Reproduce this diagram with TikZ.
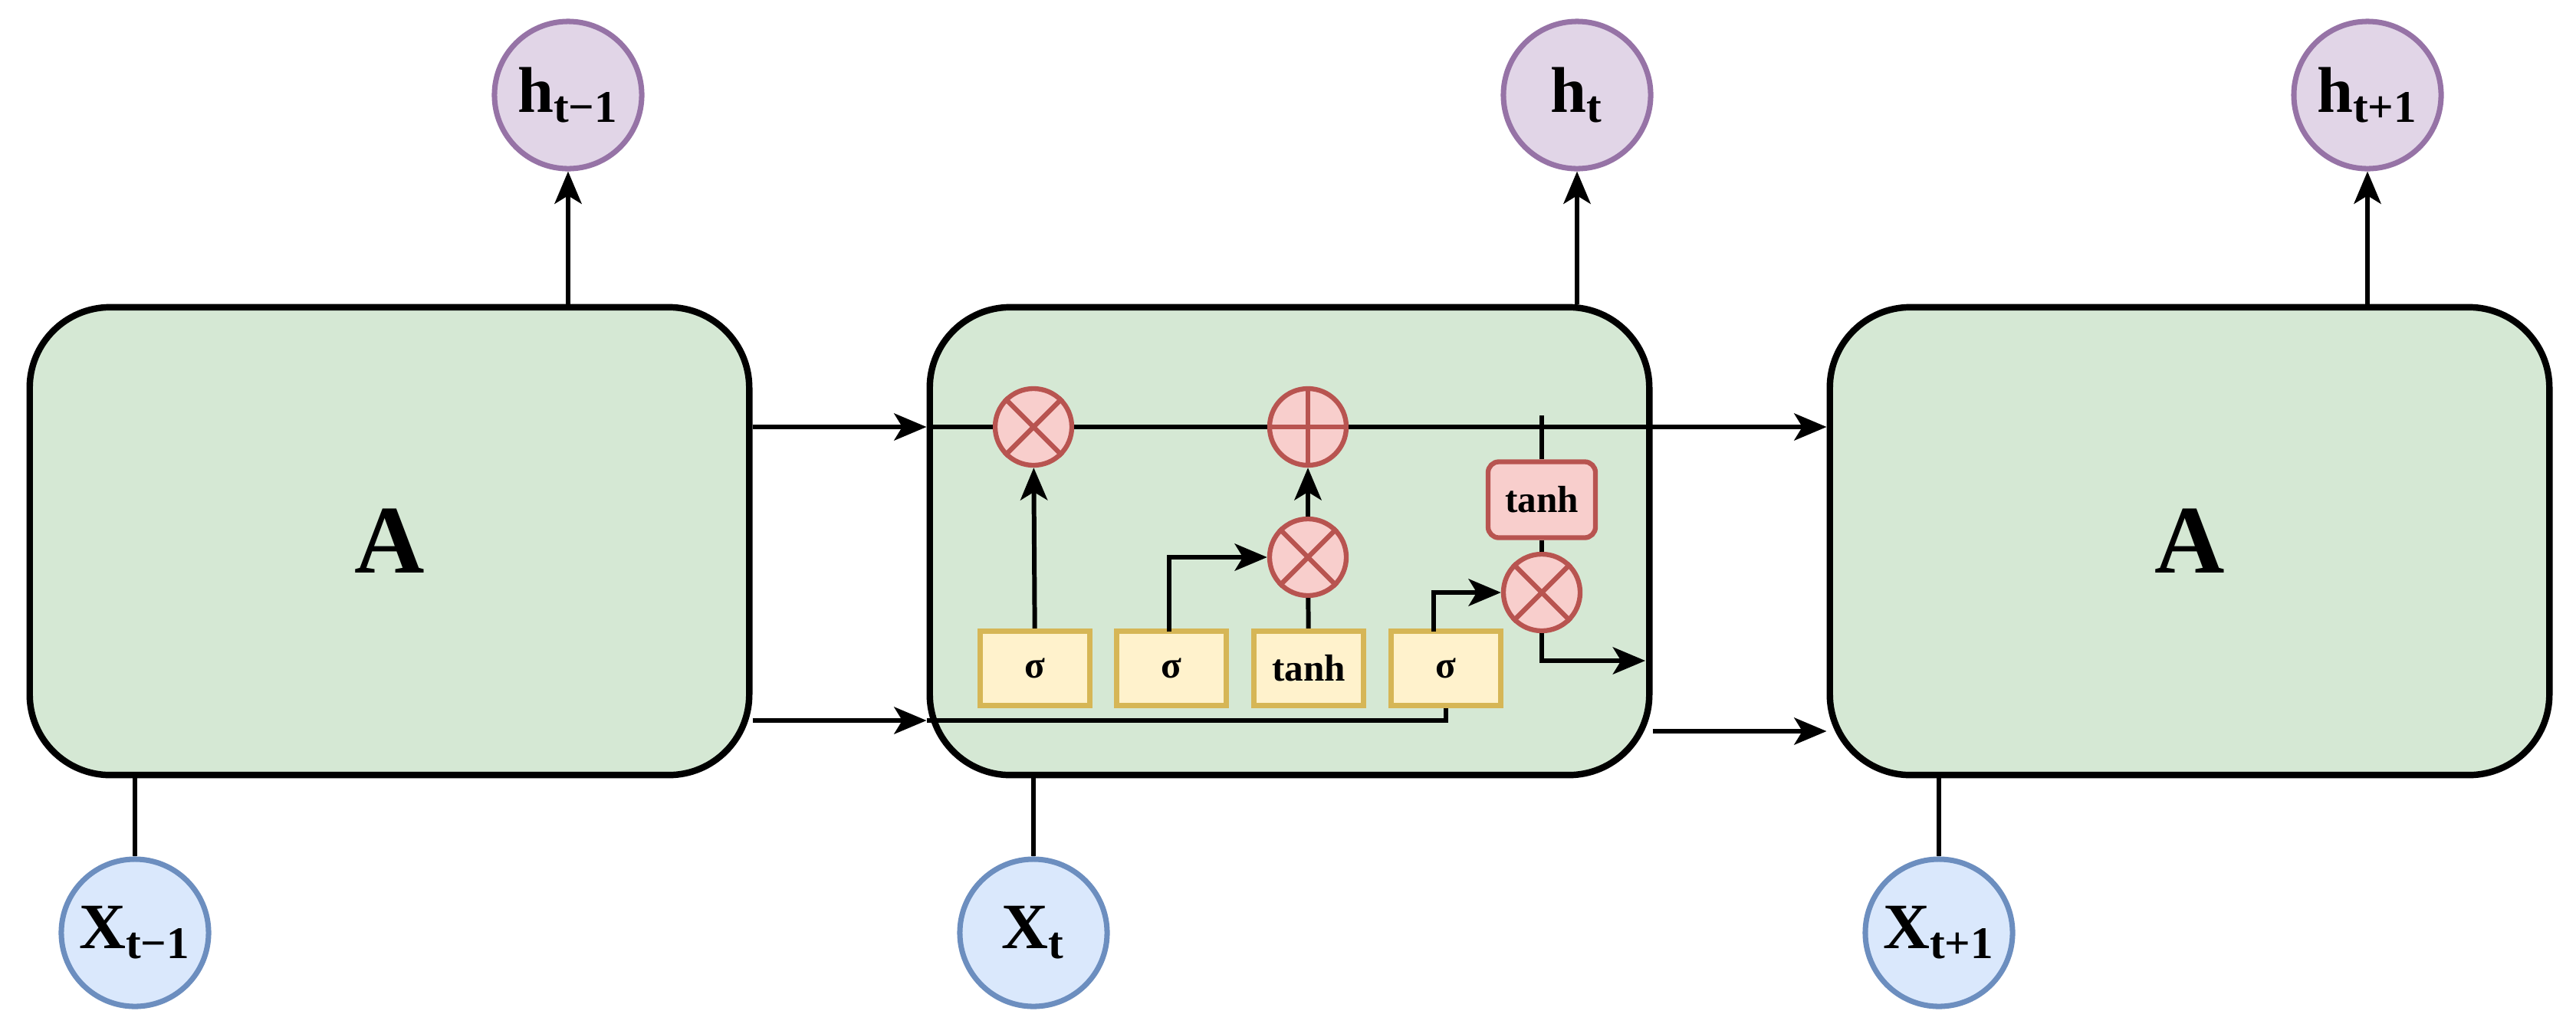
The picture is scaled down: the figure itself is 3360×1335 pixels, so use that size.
\documentclass[tikz,border=0pt]{standalone}
\usepackage{fontspec}
\setmainfont{Liberation Serif}
\usetikzlibrary{arrows.meta}
\definecolor{cg}{HTML}{D5E8D4}
\definecolor{pf}{HTML}{E1D5E7}\definecolor{pd}{HTML}{9673A6}
\definecolor{bf}{HTML}{DAE8FC}\definecolor{bd}{HTML}{6C8EBF}
\definecolor{rf}{HTML}{F8CECC}\definecolor{rd}{HTML}{B85450}
\definecolor{yf}{HTML}{FFF2CC}\definecolor{yd}{HTML}{D6B656}
\tikzset{
 cell/.style={draw=black,line width=2.4pt,fill=cg,rounded corners=1.05cm,minimum width=9.38cm,minimum height=6.1cm,font=\fontsize{36}{40}\selectfont\bfseries},
 hc/.style={circle,draw=pd,fill=pf,line width=2pt,minimum size=1.92cm,inner sep=0pt,font=\fontsize{24}{26}\selectfont\bfseries},
 xc/.style={circle,draw=bd,fill=bf,line width=2pt,minimum size=1.92cm,inner sep=0pt,font=\fontsize{24}{26}\selectfont\bfseries},
 op/.style={circle,draw=rd,fill=rf,line width=1.8pt,minimum size=1.0cm,inner sep=0pt},
 gate/.style={draw=yd,fill=yf,line width=2pt,minimum width=1.43cm,minimum height=0.97cm,inner sep=0pt,font=\fontsize{14}{16}\selectfont\bfseries},
 rgate/.style={draw=rd,fill=rf,line width=1.8pt,rounded corners=4pt,minimum width=1.4cm,minimum height=0.99cm,inner sep=0pt,font=\fontsize{14}{16}\selectfont\bfseries},
 ln/.style={line width=1.7pt,black},
 arr/.style={ln,-{Stealth[length=12pt,width=10pt,inset=3pt]}},
}
\newcommand{\mkx}[1]{\draw[rd,line width=1.8pt] (#1.45)--(#1.225) (#1.135)--(#1.315);}
\newcommand{\mkp}[1]{\draw[rd,line width=1.8pt] (#1.north)--(#1.south) (#1.west)--(#1.east);}
\begin{document}
\begin{tikzpicture}[x=0.01cm,y=-0.01cm]
\useasboundingbox (0,0) rectangle (3360,1335);
\node[cell] (L) at (508,706) {A};
\node[cell] (M) at (1682,706) {};
\node[cell] (R) at (2856,706) {A};
\node[hc] (h1) at (741,124) {h\textsubscript{t−1}};
\node[hc] (h2) at (2057,124) {h\textsubscript{t}};
\node[hc] (h3) at (3088,124) {h\textsubscript{t+1}};
\node[xc] (x1) at (176,1217) {X\textsubscript{t−1}};
\node[xc] (x2) at (1348,1217) {X\textsubscript{t}};
\node[xc] (x3) at (2529,1217) {X\textsubscript{t+1}};
\coordinate (u) at (0,557);
\coordinate (lo) at (0,940);
\coordinate (lo2) at (0,954);
% inner
\node[gate] (s1) at (1350,872) {σ};
\node[gate] (s2) at (1528,872) {σ};
\node[gate] (s3) at (1707,872) {tanh};
\node[gate] (s4) at (1886,872) {σ};
\node[op] (m1) at (1348,557) {};
\node[op] (p) at (1706,557) {};
\node[op] (m2) at (1706,727) {};
\node[rgate] (tg) at (2011,652) {tanh};
\node[op] (m3) at (2011,773) {};
\coordinate (tt) at (2011,542);
\coordinate (s2o) at (1525,824);
\coordinate (s4o) at (1870,824);
\coordinate (m3o) at (2011,862);
\coordinate (outr) at (2146,862);
% connectors
\draw[arr] (L.north -| h1) -- (h1);
\draw[arr] (M.north -| h2) -- (h2);
\draw[arr] (R.north -| h3) -- (h3);
\draw[ln] (x1) -- (L.south -| x1);
\draw[ln] (x2) -- (M.south -| x2);
\draw[ln] (x3) -- (R.south -| x3);
\draw[arr] (L.east |- u) -- (M.west |- u);
\draw[arr] (L.east |- lo) -- (M.west |- lo);
\draw[ln] (M.west |- u) -- (m1);
\draw[ln] (m1) -- (p);
\draw[arr] (p) -- (R.west |- u);
\draw[arr] (M.east |- lo2) -- (R.west |- lo2);
\draw[ln] (M.west |- lo) -| (s4.south);
\draw[arr] (s1) -- (m1);
\draw[arr] (s2o) |- (m2);
\draw[ln] (s3) -- (m2);
\draw[arr] (m2) -- (p);
\draw[arr] (s4o) |- (m3);
\draw[ln] (tt) -- (tg);
\draw[ln] (tg) -- (m3);
\draw[arr] (m3) |- (outr);
\mkx{m1}\mkx{m2}\mkx{m3}\mkp{p}
\end{tikzpicture}
\end{document}
